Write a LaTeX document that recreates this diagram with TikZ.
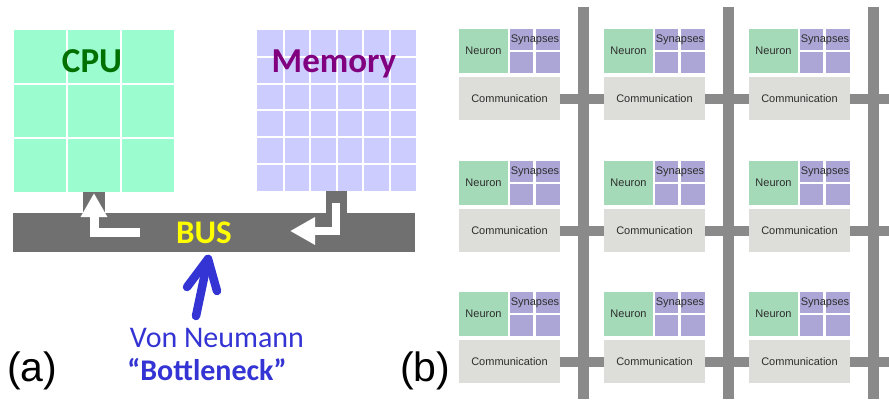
\documentclass[tikz,border=0pt]{standalone}
\usepackage{fontspec}
\setmainfont{Carlito}
\newfontfamily\arialf{Liberation Sans}
\usetikzlibrary{arrows.meta}
\definecolor{cpuc}{RGB}{155,252,208}
\definecolor{memc}{RGB}{204,204,255}
\definecolor{busc}{RGB}{112,112,112}
\definecolor{cputxt}{RGB}{0,112,0}
\definecolor{memtxt}{RGB}{128,0,128}
\definecolor{bustxt}{RGB}{255,255,0}
\definecolor{vnblue}{RGB}{52,52,212}
\definecolor{neuc}{RGB}{164,218,184}
\definecolor{sync}{RGB}{172,166,214}
\definecolor{comc}{RGB}{221,221,217}
\definecolor{barc}{RGB}{138,138,138}
\definecolor{tiletxt}{RGB}{45,45,45}
\begin{document}
\begin{tikzpicture}[x=1pt,y=-1pt,
  box/.style={rectangle, inner sep=0pt, outer sep=0pt, draw=none, anchor=north west},
  gridline/.style={white, line width=2.3pt},
  bigtxt/.style={inner sep=0pt, anchor=base, font=\bfseries\fontsize{35}{40}\selectfont},
  warrow/.style={white, line join=miter, line cap=butt},
  tiletext/.style={font=\arialf\fontsize{11}{12}\selectfont, text=tiletxt},
  hbar/.style={barc, line width=10pt, line cap=butt},
  lbl/.style={inner sep=0pt, anchor=base west, font=\arialf\fontsize{41}{46}\selectfont}]
\useasboundingbox (0,0) rectangle (889,399);

% ---------- (a) ----------
\node[box, fill=cpuc, minimum width=160pt, minimum height=162pt] (cpu) at (14,30) {};
\foreach \gx in {67.3,120.7} \draw[gridline] (\gx,30) -- (\gx,192);
\foreach \gy in {84,138} \draw[gridline] (14,\gy) -- (174,\gy);

\node[box, fill=memc, minimum width=159pt, minimum height=161pt] (mem) at (257,30) {};
\foreach \k in {1,...,5} {
  \draw[gridline, line width=2pt] (257+26.5*\k,30) -- (257+26.5*\k,191);
  \draw[gridline, line width=2pt] (257,30+26.83*\k) -- (416,30+26.83*\k);
}

\node[box, fill=busc, minimum width=402pt, minimum height=39pt] (bus) at (13,213) {};
\node[box, fill=busc, minimum width=22pt, minimum height=21pt] (cstub) at (83,192) {};
\node[box, fill=busc, minimum width=21pt, minimum height=22pt] (mstub) at (326,191) {};

\coordinate (la1) at (140,232);
\coordinate (la2) at (94,232);
\coordinate (la3) at (94,193);
\draw[warrow, line width=9pt, -{Triangle[length=24pt,width=25pt]}] (la1) -- (la2) -- (la3);
\coordinate (ra1) at (336,203);
\coordinate (ra2) at (336,231);
\coordinate (ra3) at (290,231);
\draw[warrow, line width=8pt, -{Triangle[length=25pt,width=26pt]}] (ra1) -- (ra2) -- (ra3);

\node[bigtxt, text=cputxt] (cput) at (92,72) {CPU};
\node[bigtxt, text=memtxt] (memt) at (334,72) {Memory};
\node[bigtxt, text=bustxt, font=\bfseries\fontsize{33}{38}\selectfont] (bust) at (204,243) {BUS};

\node[inner sep=0pt, anchor=base, text=vnblue, font=\fontsize{30}{34}\selectfont] (vn) at (217,347) {Von Neumann};
\node[inner sep=0pt, anchor=base, text=vnblue, font=\bfseries\fontsize{30}{34}\selectfont] (bn) at (207,380) {“Bottleneck”};

\coordinate (vtail) at (196,316);
\coordinate (vtip) at (208,259);
\coordinate (vwl) at (187,287);
\coordinate (vwr) at (217,291);
\draw[vnblue, line width=8.5pt, line cap=round, line join=round] (vtail) -- (vtip);
\draw[vnblue, line width=8.5pt, line cap=round, line join=round] (vwl) -- (vtip) -- (vwr);

\node[lbl] (la) at (7,381) {(a)};
\node[lbl] (lb) at (400,381) {(b)};

% ---------- (b) ----------
\foreach \bx in {583,728,873} \fill[barc] (\bx-5.5,7) rectangle (\bx+5.5,399);

\foreach \c/\x in {0/459,1/604,2/749} {
  \foreach \r/\y in {0/29,1/161,2/292} {
    \node[box, fill=neuc, minimum width=49pt, minimum height=44pt, tiletext] (neu-\c-\r) at (\x,\y) {Neuron};
    \node[box, fill=sync, minimum width=23pt, minimum height=21pt] (sa-\c-\r) at (\x+51,\y) {};
    \node[box, fill=sync, minimum width=24pt, minimum height=21pt] (sb-\c-\r) at (\x+77,\y) {};
    \node[box, fill=sync, minimum width=23pt, minimum height=21pt] (sc-\c-\r) at (\x+51,\y+23) {};
    \node[box, fill=sync, minimum width=24pt, minimum height=21pt] (sd-\c-\r) at (\x+77,\y+23) {};
    \node[tiletext, inner sep=0pt] (syn-\c-\r) at (\x+76,\y+10.5) {Synapses};
    \node[box, fill=comc, minimum width=101pt, minimum height=43pt, tiletext] (com-\c-\r) at (\x,\y+48) {Communication};
  }
}
\foreach \r in {0,1,2} {
  \draw[hbar] (com-0-\r.east) -- (com-1-\r.west);
  \draw[hbar] (com-1-\r.east) -- (com-2-\r.west);
  \coordinate (edge-\r) at (889,0 |- com-2-\r.east);
  \draw[hbar] (com-2-\r.east) -- (com-2-\r.east -| edge-\r);
}
\end{tikzpicture}
\end{document}
